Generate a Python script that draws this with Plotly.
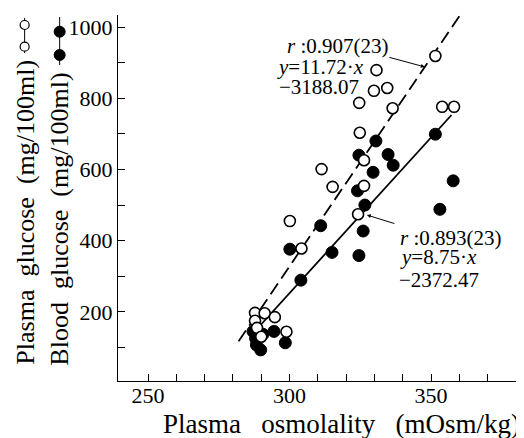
import plotly.graph_objects as go

# ---------------- data ----------------
plasma_osm = [351.5, 330.7, 329.8, 334.5, 324.6, 336.4, 353.9, 358.1, 324.8, 311.3,
              315.2, 326.3, 326.3, 324.2, 300.1, 304.2, 287.8, 291.2, 294.8, 287.8,
              298.9, 288.5, 290.0]
plasma_glucose = [919, 879, 821, 829, 787, 772, 776, 776, 703, 601,
                  551, 626, 554, 474, 455, 378, 197, 196, 185, 175,
                  144, 155, 130]

blood_osm = [330.5, 334.8, 336.6, 329.5, 351.5, 357.8, 353.1, 324.5, 324.0, 326.6,
             326.0, 324.5, 311.0, 315.0, 300.1, 304.0, 287.1, 290.6, 294.5, 288.3,
             289.8, 298.5, 288.0]
blood_glucose = [680, 642, 612, 592, 699, 568, 488, 640, 540, 500,
                 427, 358, 442, 367, 376, 289, 145, 137, 145, 107,
                 93, 113, 125]

# regression lines as printed on the chart
plasma_fit = {"slope": 11.72, "intercept": -3188.07, "x": [282.0, 360.0]}
blood_fit = {"slope": 8.75, "intercept": -2372.47, "x": [287.0, 357.2]}

x_tickvals = list(range(250, 390, 10))
x_ticktext = ["250", "", "", "", "", "300", "", "", "", "", "350", "", "", ""]
y_tickvals = list(range(100, 1100, 100))
y_ticktext = ["", "200", "", "400", "", "600", "", "800", "", "1000"]

FONT = "Liberation Serif"

fig = go.Figure()

def fit_y(f):
    return [f["slope"] * x + f["intercept"] for x in f["x"]]

fig.add_trace(go.Scatter(x=plasma_fit["x"], y=fit_y(plasma_fit), mode="lines",
                         line=dict(color="black", width=1.8, dash="13px,6px"),
                         showlegend=False, hoverinfo="skip"))
fig.add_trace(go.Scatter(x=blood_fit["x"], y=fit_y(blood_fit), mode="lines",
                         line=dict(color="black", width=1.8),
                         showlegend=False, hoverinfo="skip"))
fig.add_trace(go.Scatter(x=blood_osm, y=blood_glucose, mode="markers",
                         marker=dict(size=12, color="black",
                                     line=dict(color="black", width=1)),
                         name="Blood glucose", showlegend=False))
fig.add_trace(go.Scatter(x=plasma_osm, y=plasma_glucose, mode="markers",
                         marker=dict(size=11, color="white",
                                     line=dict(color="black", width=1.6)),
                         name="Plasma glucose", showlegend=False))

# the page body has an 8px margin; the figure is shrunk by it so it fits the window
OFF = 8
W, H = 524 - OFF, 438 - OFF
L, R, T, B = 118.3, 522.0, 15.0, 381.0   # plot area in window pixels
def px(x):
    return (x - L) / (R - L)
def py(y):
    return (B - y) / (B - T)

shapes = []
# legend glyphs next to the y-axis titles
shapes.append(dict(type="line", xref="paper", yref="paper", x0=px(25), x1=px(25),
                   y0=py(18), y1=py(53), line=dict(color="black", width=1)))
shapes.append(dict(type="line", xref="paper", yref="paper", x0=px(60), x1=px(60),
                   y0=py(17), y1=py(65), line=dict(color="black", width=1)))
for cy in (25, 46.7):
    shapes.append(dict(type="circle", xref="paper", yref="paper",
                       x0=px(25 - 4.5), x1=px(25 + 4.5), y0=py(cy + 4.5), y1=py(cy - 4.5),
                       fillcolor="white", line=dict(color="black", width=1.2)))
for cy in (31.7, 55):
    shapes.append(dict(type="circle", xref="paper", yref="paper",
                       x0=px(60 - 5.5), x1=px(60 + 5.5), y0=py(cy + 5.5), y1=py(cy - 5.5),
                       fillcolor="black", line=dict(color="black", width=1)))

ann_font = dict(family=FONT, size=21, color="black")
annotations = [
    # y-axis titles
    dict(text="Plasma  glucose  (mg/100ml)", textangle=-90, xref="paper", yref="paper",
         x=px(25), y=py(212), xanchor="center", yanchor="middle", showarrow=False,
         font=dict(family=FONT, size=26, color="black")),
    dict(text="Blood  glucose  (mg/100ml)", textangle=-90, xref="paper", yref="paper",
         x=px(60), y=py(219), xanchor="center", yanchor="middle", showarrow=False,
         font=dict(family=FONT, size=26, color="black")),
    # x-axis title
    dict(text="Plasma   osmolality   (mOsm/kg)", xref="paper", yref="paper",
         x=px(342), y=py(424), xanchor="center", yanchor="middle", showarrow=False,
         font=dict(family=FONT, size=27, color="black")),
    # plasma regression text
    dict(text="<i>r</i> :0.907(23)", x=298.5, y=948, xanchor="left", yanchor="middle",
         showarrow=False, font=ann_font),
    dict(text="<i>y</i>=11.72·<i>x</i>", x=295.0, y=888, xanchor="left", yanchor="middle",
         showarrow=False, font=ann_font),
    dict(text="−3188.07", x=295.5, y=831, xanchor="left", yanchor="middle",
         showarrow=False, font=ann_font),
    dict(text="", x=347.8, y=888, ax=-37, ay=-10, showarrow=True, arrowhead=2,
         arrowsize=0.8, arrowwidth=1, arrowcolor="black"),
    # blood regression text
    dict(text="<i>r</i> :0.893(23)", x=338.4, y=407, xanchor="left", yanchor="middle",
         showarrow=False, font=ann_font),
    dict(text="<i>y</i>=8.75·<i>x</i>", x=338.4, y=354, xanchor="left", yanchor="middle",
         showarrow=False, font=ann_font),
    dict(text="−2372.47", x=338.0, y=289, xanchor="left", yanchor="middle",
         showarrow=False, font=ann_font),
    dict(text="", x=327.3, y=472, ax=29, ay=9, showarrow=True, arrowhead=2,
         arrowsize=0.8, arrowwidth=1, arrowcolor="black"),
]

axis_common = dict(showgrid=False, zeroline=False, showline=True, linecolor="black",
                   linewidth=1.2, ticks="inside", ticklen=7, tickwidth=1,
                   tickcolor="black", tickfont=dict(family=FONT, size=22, color="black"))

fig.update_layout(
    width=W, height=H,
    margin=dict(l=L - OFF, r=W - (R - OFF), t=T - OFF, b=H - (B - OFF)),
    paper_bgcolor="white", plot_bgcolor="white",
    xaxis=dict(range=[239.4, 382.1], tickmode="array", tickvals=x_tickvals,
               ticktext=x_ticktext, ticklabelstandoff=-6, **axis_common),
    yaxis=dict(range=[5.6, 1034], tickmode="array", tickvals=y_tickvals,
               ticktext=y_ticktext, **axis_common),
    shapes=shapes, annotations=annotations, showlegend=False,
)

fig.write_html("out.html")
